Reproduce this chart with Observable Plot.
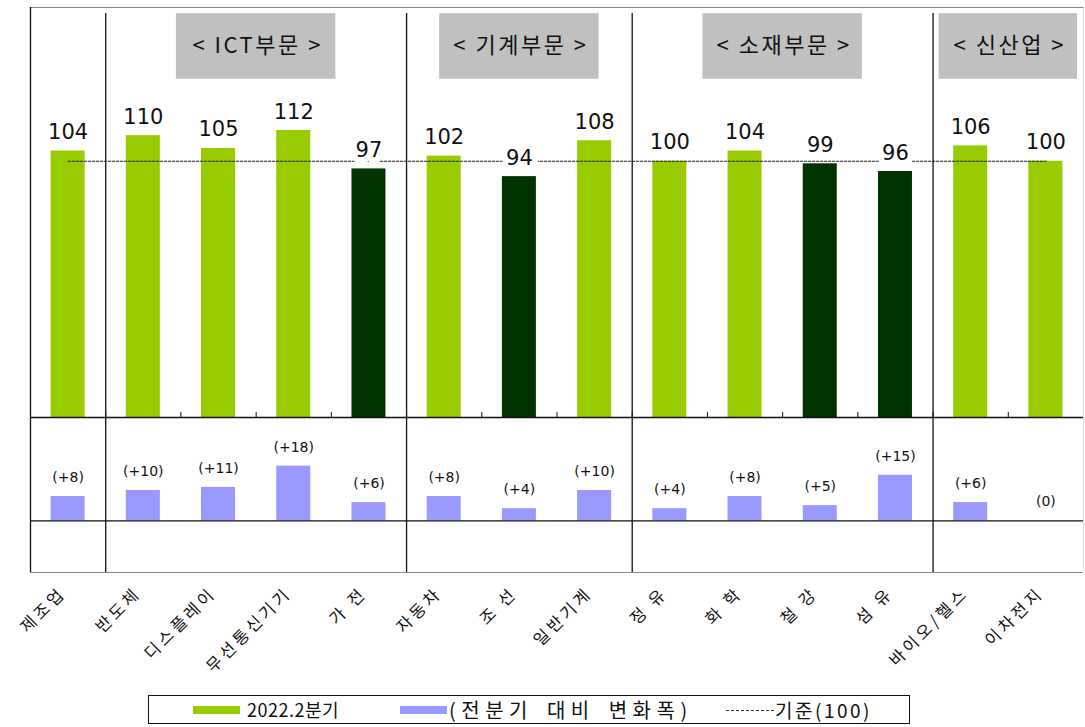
<!DOCTYPE html>
<html>
<head>
<meta charset="utf-8">
<script src="https://cdn.jsdelivr.net/npm/d3@7"></script>
<script src="https://cdn.jsdelivr.net/npm/@observablehq/plot@0.6"></script>
<style>
  html, body { margin: 0; padding: 0; background: #fff; overflow: hidden; }
  #wrap { position: relative; width: 1085px; height: 727px; font-family: "Noto Sans CJK KR", "DejaVu Sans", sans-serif; }
  #top, #bottom { position: absolute; left: 0; }
  #top { top: 0; }
  #bottom { top: 417px; }
  #top g[font-size="22"] text { letter-spacing: 2.5px; }
  #bottom g[font-size="16.5"] text { letter-spacing: 3.5px; }
  #legend { position: absolute; left: 148px; top: 695px; width: 762px; height: 29px; border: 1px solid #111; box-sizing: border-box; background: #fff; color: #111; }
  #legend .sw { position: absolute; top: 10px; height: 8px; width: 47px; }
  #legend .tx { position: absolute; top: 0px; line-height: 27px; font-size: 18px; white-space: pre; }
  #legend .dash { position: absolute; top: 14px; width: 48px; border-top: 1px dashed #333; }
</style>
</head>
<body>
<div id="wrap">
  <div id="top"></div>
  <div id="bottom"></div>
  <div id="legend"></div>
</div>
<script>
// ---- data ----
const categories = ["제조업","반도체","디스플레이","무선통신기기","가 전","자동차","조 선","일반기계","정 유","화 학","철 강","섬 유","바이오/헬스","이차전지"];
const values = [104,110,105,112,97,102,94,108,100,104,99,96,106,100];
const changes = [8,10,11,18,6,8,4,10,4,8,5,15,6,0];
const changeLabels = ["(+8)","(+10)","(+11)","(+18)","(+6)","(+8)","(+4)","(+10)","(+4)","(+8)","(+5)","(+15)","(+6)","(0)"];
const groupNames = ["< ICT부문 >","< 기계부문 >","< 소재부문 >","< 신산업 >"];
const groupFirst = [1,5,8,12];
const groupLast = [4,7,11,13];
const baseline = 100;
const legendLabels = ["2022.2분기","(전분기 대비 변화폭)","기준(100)"];

// ---- styles ----
const LIGHT = "#99CC00", DARK = "#003300", LAV = "#9999FF", BOX = "#C0C0C0";
const W = 1085, ML = 30, MR = 2;
const xDomain = [-0.5, categories.length - 0.5];
const inset = 20.6;

const rows = categories.map((c, i) => ({i, c, v: values[i], d: changes[i], dl: changeLabels[i]}));
const groups = groupNames.map((n, k) => ({n, first: groupFirst[k], last: groupLast[k]}));
const separators = groups.map(g => g.first - 0.5);
const boundaries = d3.range(0, categories.length - 1).map(i => i + 0.5);
const numFont = "DejaVu Sans, sans-serif";

const topPlot = Plot.plot({
  width: W, height: 417,
  marginLeft: ML, marginRight: MR, marginTop: 7, marginBottom: 0,
  style: {background: "transparent", overflow: "visible"},
  x: {type: "linear", domain: xDomain, axis: null},
  y: {domain: [0, 160], axis: null},
  marks: [
    // header boxes
    Plot.rect(groups, {
      x1: g => (g.first + g.last) / 2 - (g.last - g.first >= 2 ? 1.06 : 0.92),
      x2: g => (g.first + g.last) / 2 + (g.last - g.first >= 2 ? 1.06 : 0.92),
      y1: 132, y2: 157.6, fill: BOX
    }),
    Plot.text(groups, {
      x: g => (g.first + g.last) / 2, y: 144.8, text: "n", dx: 1.5,
      fontSize: 22, fill: "#111", fontFamily: "Noto Sans CJK KR, sans-serif"
    }),
    // bars
    Plot.rectY(rows, {
      x1: d => d.i - 0.5, x2: d => d.i + 0.5, y: "v",
      fill: d => d.v < baseline ? DARK : LIGHT,
      insetLeft: inset, insetRight: inset
    }),
    // frame lines
    Plot.ruleY([160], {stroke: "#888", strokeWidth: 1.2}),
    Plot.ruleX([xDomain[0]], {stroke: "#111", strokeWidth: 1.3}),
    Plot.ruleX([xDomain[1]], {stroke: "#ddd", strokeWidth: 1}),
    Plot.ruleX(separators, {stroke: "#111", strokeWidth: 1.3, insetTop: 6}),
    Plot.ruleX(boundaries, {y1: 0, y2: 2, stroke: "#111", strokeWidth: 1}),
    Plot.ruleY([0], {stroke: "#111", strokeWidth: 1.3}),
    // baseline dashed
    Plot.line(rows, {x: "i", y: () => baseline, stroke: "#222", strokeWidth: 1, strokeDasharray: "2.5,1.5"}),
    // value labels with white box-like halo
    Plot.text(rows, {
      x: "i", y: "v", text: d => String(d.v), dy: -12, lineAnchor: "bottom",
      fontSize: 21, fontFamily: numFont, fill: "#111",
      stroke: "white", strokeWidth: 12, paintOrder: "stroke"
    })
  ]
});
topPlot.style.display = "block";
document.getElementById("top").appendChild(topPlot);

const bottomPlot = Plot.plot({
  width: W, height: 265,
  marginLeft: ML, marginRight: MR, marginTop: 0, marginBottom: 110,
  style: {background: "transparent", overflow: "visible"},
  x: {type: "linear", domain: xDomain, axis: null},
  y: {domain: [-17, 34], axis: null},
  marks: [
    Plot.rectY(rows, {
      x1: d => d.i - 0.5, x2: d => d.i + 0.5, y: "d", fill: LAV,
      insetLeft: inset, insetRight: inset
    }),
    Plot.ruleY([0], {stroke: "#111", strokeWidth: 1.3}),
    Plot.ruleY([-17], {stroke: "#888", strokeWidth: 1.2}),
    Plot.ruleX([xDomain[0]], {stroke: "#111", strokeWidth: 1.3}),
    Plot.ruleX([xDomain[1]], {stroke: "#ddd", strokeWidth: 1}),
    Plot.ruleX(separators, {stroke: "#111", strokeWidth: 1.3}),
    Plot.text(rows, {
      x: "i", y: "d", text: "dl", dy: -19, fontSize: 14, fontFamily: numFont, fill: "#111"
    }),
    // category labels
    Plot.text(rows, {
      x: "i", frameAnchor: "bottom", text: "c", rotate: -45,
      textAnchor: "end", lineAnchor: "middle", dx: -5, dy: 18,
      fontSize: 16.5, fill: "#111",
      fontFamily: "Noto Sans CJK KR, sans-serif"
    })
  ]
});
bottomPlot.style.display = "block";
document.getElementById("bottom").appendChild(bottomPlot);

// ---- legend ----
const lg = document.getElementById("legend");
lg.innerHTML = `
  <div class="sw" style="left:44px;background:${LIGHT}"></div>
  <div class="tx" style="left:98px;letter-spacing:0.5px">${legendLabels[0]}</div>
  <div class="sw" style="left:251px;background:${LAV}"></div>
  <div class="tx" style="left:300px;font-size:20px;letter-spacing:5.5px;word-spacing:4px">${legendLabels[1]}</div>
  <div class="dash" style="left:577px"></div>
  <div class="tx" style="left:626px;font-size:19px;letter-spacing:2.5px">${legendLabels[2]}</div>
`;
</script>
</body>
</html>
